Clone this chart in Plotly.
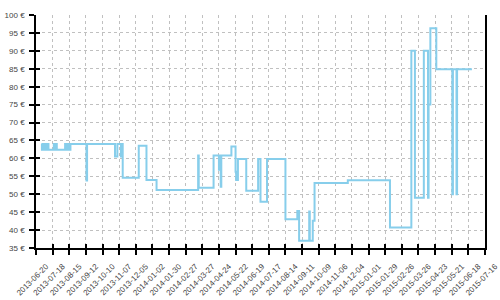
import plotly.graph_objects as go

dates = [
    "2013-06-29", "2013-06-30", "2013-07-02", "2013-07-04", "2013-07-06", "2013-07-08",
    "2013-07-10", "2013-07-11", "2013-07-20", "2013-07-21", "2013-07-24", "2013-07-25",
    "2013-08-08", "2013-08-11", "2013-08-14", "2013-08-15", "2013-08-17", "2013-09-13",
    "2013-09-14", "2013-10-31", "2013-11-04", "2013-11-10", "2013-11-11", "2013-11-13",
    "2013-12-10", "2013-12-23", "2014-01-09", "2014-03-20", "2014-03-21", "2014-04-15",
    "2014-04-24", "2014-04-25", "2014-04-27", "2014-04-28", "2014-05-15", "2014-05-22",
    "2014-05-23", "2014-05-26", "2014-06-09", "2014-06-29", "2014-07-03", "2014-07-14",
    "2014-08-14", "2014-09-03", "2014-09-06", "2014-09-23", "2014-09-24", "2014-09-29",
    "2014-10-02", "2014-11-27", "2015-02-06", "2015-03-14", "2015-03-20", "2015-04-04",
    "2015-04-11", "2015-04-12", "2015-04-15", "2015-04-25", "2015-05-22", "2015-05-23",
    "2015-05-29", "2015-05-30", "2015-06-24",
]
prices = [
    64.0, 62.4, 64.0, 62.4, 64.0, 62.4,
    64.0, 62.4, 64.0, 62.4, 64.0, 62.4,
    64.0, 62.4, 64.0, 62.4, 64.0, 53.8,
    64.0, 60.5, 64.0, 60.5, 64.0, 54.6,
    63.5, 54.0, 51.2, 60.8, 51.8, 60.8,
    56.8, 60.8, 52.1, 60.8, 63.3, 56.3,
    54.0, 59.8, 51.0, 59.8, 47.9, 59.8,
    43.0, 45.3, 37.0, 45.2, 37.0, 42.6,
    53.1, 53.9, 40.7, 90.0, 49.0, 90.0,
    49.0, 75.0, 96.3, 84.9, 50.0, 84.9,
    50.0, 84.9, 84.9,
]

x_start = "2013-06-20"
x_end = "2015-07-16"
y_min, y_max, y_step = 35, 100, 5
tick_days = 28

font = dict(family="Liberation Sans", size=8, color="#444444")
DAY_MS = 86400000

fig = go.Figure()
fig.add_trace(go.Scatter(
    x=dates, y=prices, mode="lines", line=dict(color="#87CEEB", width=2, shape="hv"),
    hoverinfo="skip", showlegend=False,
))
# invisible helper traces so overlay axes are drawn
fig.add_trace(go.Scatter(x=[dates[0]], y=[prices[0]], xaxis="x2", yaxis="y3",
                         mode="markers", marker=dict(opacity=0), showlegend=False, hoverinfo="skip"))
fig.add_trace(go.Scatter(x=[dates[0]], y=[prices[0]], xaxis="x", yaxis="y2",
                         mode="markers", marker=dict(opacity=0), showlegend=False, hoverinfo="skip"))

common_x = dict(range=[x_start, x_end], tick0=x_start, dtick=tick_days * DAY_MS)
common_y = dict(range=[y_min, y_max], tick0=y_min, dtick=y_step)

fig.update_layout(
    width=500, height=300,
    margin=dict(l=36, r=15, t=15, b=52, autoexpand=False),
    paper_bgcolor="white", plot_bgcolor="white",
    font=font,
    xaxis=dict(
        **common_x, tickformat="%Y-%m-%d", tickangle=-45,
        showgrid=True, gridcolor="#c0c0c0", griddash="3px,3px", gridwidth=1,
        showline=True, linecolor="black", linewidth=1.5,
        ticks="outside", ticklen=5, tickcolor="black", tickwidth=1.5,
        tickfont=font, zeroline=False, fixedrange=True,
        ticklabelshift=10, ticklabelstandoff=4, ticklabeloverflow="allow",
    ),
    xaxis2=dict(
        **common_x, overlaying="x", matches="x", side="bottom", anchor="y",
        showgrid=False, showticklabels=False, showline=False,
        ticks="inside", ticklen=4, tickcolor="black", tickwidth=1.5, zeroline=False,
    ),
    yaxis=dict(
        **common_y, ticksuffix=" €",
        showgrid=True, gridcolor="#c0c0c0", griddash="3px,3px", gridwidth=1,
        showline=True, linecolor="black", linewidth=1.5,
        ticks="outside", ticklen=5, tickcolor="black", tickwidth=1.5,
        tickfont=font, zeroline=False, fixedrange=True,
        ticklabelstandoff=3,
    ),
    yaxis2=dict(
        **common_y, overlaying="y", matches="y", side="right", anchor="x",
        showgrid=False, showticklabels=False, ticks="",
        showline=True, linecolor="black", linewidth=1.5, zeroline=False,
    ),
    yaxis3=dict(
        **common_y, overlaying="y", matches="y", side="left", anchor="x2",
        showgrid=False, showticklabels=False, showline=False,
        ticks="inside", ticklen=4, tickcolor="black", tickwidth=1.5, zeroline=False,
    ),
)

fig.write_html("out.html")
